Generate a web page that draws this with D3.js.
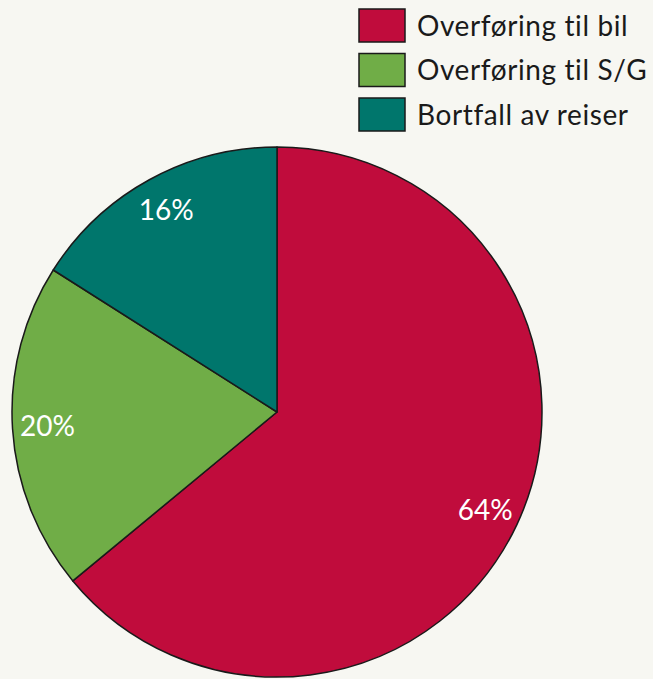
<!DOCTYPE html>
<html>
<head>
<meta charset="utf-8">
<script src="https://cdn.jsdelivr.net/npm/d3@7"></script>
<style>
  body { margin: 0; background: #f7f7f2; }
  svg { display: block; }
</style>
</head>
<body>
<svg width="653" height="679"></svg>
<script>
var svg = d3.select('svg');

// data
var categories = ['Overføring til bil', 'Overføring til S/G', 'Bortfall av reiser'];
var values = [64, 20, 16];
var labels = ['64%', '20%', '16%'];
var colors = ['#c00c3c', '#70ad47', '#00766c'];

var cx = 277, cy = 412, radius = 265;
var font = 'Lato, "Open Sans", sans-serif';

svg.append('rect')
    .attr('width', 653)
    .attr('height', 679)
    .attr('fill', '#f7f7f2');

var pie = d3.pie().sort(null).value(function(d){ return d; });
var arcs = pie(values);

var arc = d3.arc().innerRadius(0).outerRadius(radius);
var labelArc = d3.arc().innerRadius(230).outerRadius(230);

var g = svg.append('g').attr('transform', 'translate(' + cx + ',' + cy + ')');

g.selectAll('path')
    .data(arcs)
    .enter()
    .append('path')
    .attr('d', arc)
    .attr('fill', function(d, i){ return colors[i]; })
    .attr('stroke', '#1a1a1a')
    .attr('stroke-width', 1.5)
    .attr('stroke-linejoin', 'round');

g.selectAll('text')
    .data(arcs)
    .enter()
    .append('text')
    .attr('transform', function(d){ return 'translate(' + labelArc.centroid(d) + ')'; })
    .attr('text-anchor', 'middle')
    .attr('dy', '0.35em')
    .attr('fill', '#ffffff')
    .style('font-family', font)
    .style('font-size', '28px')
    .text(function(d, i){ return labels[i]; });

// legend
var legend = svg.append('g').attr('transform', 'translate(359,9)');

var item = legend.selectAll('g')
    .data(categories)
    .enter()
    .append('g')
    .attr('transform', function(d, i){ return 'translate(0,' + (i * 44.5) + ')'; });

item.append('rect')
    .attr('width', 46)
    .attr('height', 33)
    .attr('fill', function(d, i){ return colors[i]; })
    .attr('stroke', '#1a1a1a')
    .attr('stroke-width', 1.5);

item.append('text')
    .attr('x', 58)
    .attr('y', 17)
    .attr('dy', '0.35em')
    .attr('fill', '#1a1a1a')
    .style('font-family', font)
    .style('font-size', '28px')
    .style('letter-spacing', '0.6px')
    .text(function(d){ return d; });
</script>
</body>
</html>
